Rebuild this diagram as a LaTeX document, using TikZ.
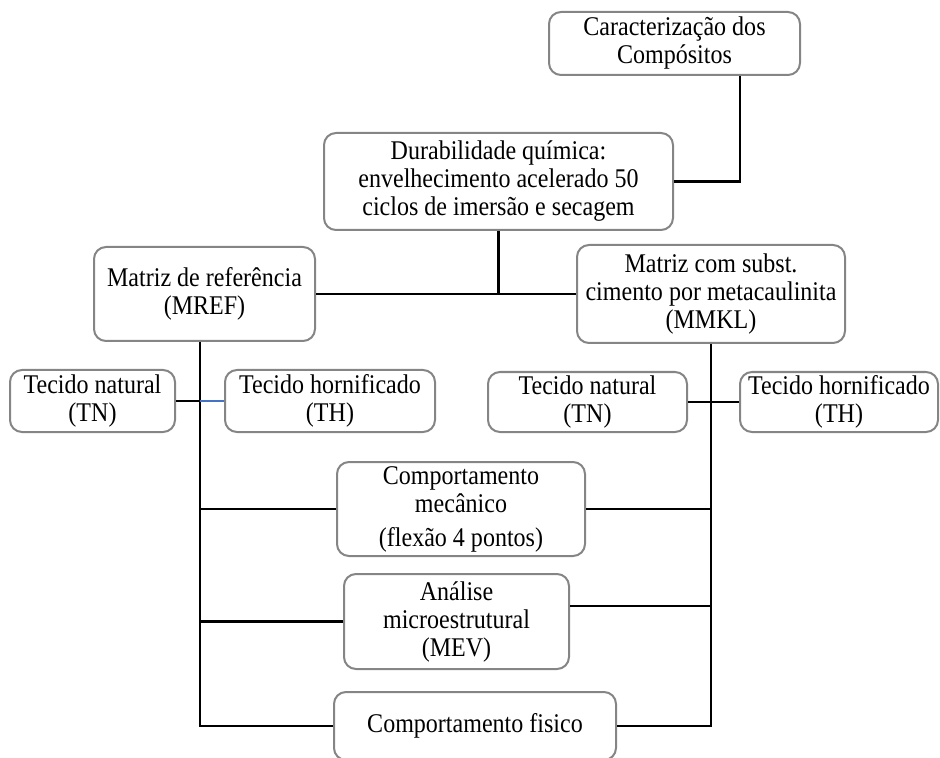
\documentclass[tikz,border=0pt]{standalone}
\usepackage{fontspec}
\setmainfont{Liberation Serif}[FakeStretch=0.89]
\definecolor{bordacaixa}{HTML}{858585}
\definecolor{azul}{HTML}{4472C4}

\begin{document}
\begin{tikzpicture}[x=0.5pt,y=-0.5pt,
    caixa/.style={draw=bordacaixa, line width=1pt, rounded corners=6pt, align=center,
      inner sep=0pt, font=\fontsize{13.5}{14}\selectfont},
    liga/.style={line width=1.4pt}]
  \useasboundingbox (0,0) rectangle (940,758);
  \clip (0,0) rectangle (940,758);
  \node[caixa, minimum width=125.5pt, minimum height=31.5pt] (carac) at (674.5,43.5)
    {Caracterização dos\\Compósitos};
  \node[caixa, minimum width=174.5pt, minimum height=48.5pt] (dura) at (498.5,181.5)
    {Durabilidade química:\\envelhecimento acelerado 50\\ciclos de imersão e secagem};
  \node[caixa, minimum width=110.5pt, minimum height=47pt] (mref) at (204.5,294)
    {Matriz de referência\\(MREF)};
  \node[caixa, minimum width=134pt, minimum height=49pt] (mmkl) at (711,294)
    {Matriz com subst.\\cimento por metacaulinita\\(MMKL)};
  \node[caixa, minimum width=82.5pt, minimum height=31pt] (tnl) at (92.5,401)
    {Tecido natural\\(TN)};
  \node[caixa, minimum width=105pt, minimum height=31pt] (thl) at (330,401)
    {Tecido hornificado\\(TH)};
  \node[caixa, minimum width=99.5pt, minimum height=30pt] (tnr) at (587.5,402)
    {Tecido natural\\(TN)};
  \node[caixa, minimum width=99pt, minimum height=30pt] (thr) at (839,402)
    {Tecido hornificado\\(TH)};
  \node[caixa, minimum width=124pt, minimum height=47pt] (mec) at (461,509)
    {Comportamento\\mecânico\\[3pt](flexão 4 pontos)};
  \node[caixa, minimum width=112.5pt, minimum height=47.5pt] (ana) at (456.5,621.5)
    {Análise\\microestrutural\\(MEV)};
  \node[caixa, minimum width=141pt, minimum height=34pt] (fis) at (475,726)
    {Comportamento fisico};

  \coordinate (troncoE) at (200,726);
  \coordinate (troncoD) at (711,726);

  \draw[liga] ([xshift=32.75pt]carac.south) |- (dura.east);
  \draw[liga] (dura.south) -- (dura.south |- mref.east);
  \draw[liga] (mref.east) -- (mmkl.west);
  \draw[liga] (mref.south -| troncoE) -- (troncoE) -- (fis.west);
  \draw[liga] (mmkl.south) -- (troncoD) -- (fis.east);
  \draw[liga] (tnl.east) -- (tnl.east -| troncoE);
  \draw[line width=1pt, azul] (tnl.east -| troncoE) -- (thl.west);
  \draw[liga] (tnr.east) -- (thr.west);
  \draw[liga] (mec.west) -- (mec.west -| troncoE);
  \draw[liga] (mec.east) -- (mec.east -| troncoD);
  \draw[liga] (ana.west) -- (ana.west -| troncoE);
  \draw[liga] ([yshift=7.75pt]ana.east) -- ([yshift=7.75pt]ana.east -| troncoD);
\end{tikzpicture}
\end{document}
